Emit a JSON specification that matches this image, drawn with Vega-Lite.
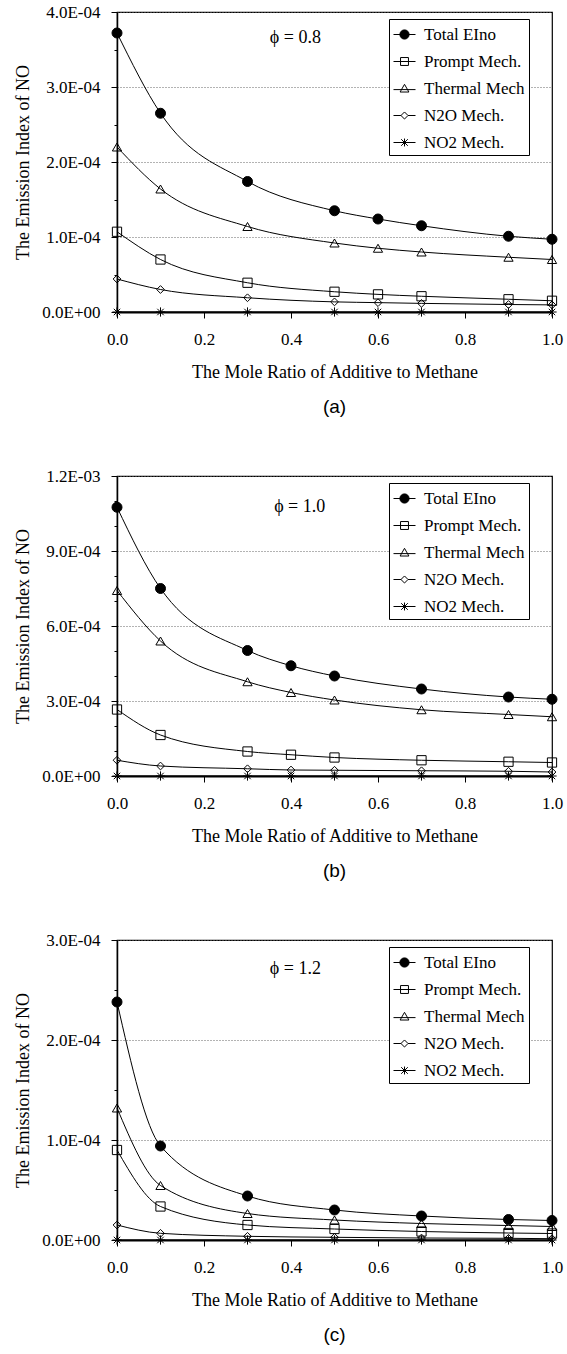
{
  "$schema": "https://vega.github.io/schema/vega-lite/v6.json",
  "padding": {"left": 14, "top": 2, "right": 5, "bottom": 0},
  "background": "white",
  "spacing": 48,
  "config": {
    "font": "Liberation Serif",
    "view": {"stroke": "black", "strokeWidth": 1.2},
    "axis": {"labelFont": "Liberation Serif", "titleFont": "Liberation Serif", "labelColor": "black", "titleColor": "black", "domainColor": "black", "tickColor": "black", "titleFontWeight": "normal", "labelFontSize": 17, "titleFontSize": 18, "labelFlush": false, "labelOverlap": false},
    "title": {"font": "Liberation Sans", "fontSize": 19, "fontWeight": "normal", "color": "black"},
    "legend": {"title": null, "orient": "none", "legendX": 272, "legendY": 7, "strokeColor": "black", "fillColor": "white", "padding": 4, "labelFontSize": 17, "labelFont": "Liberation Serif", "labelColor": "black", "symbolSize": 484, "symbolOpacity": 1, "symbolStrokeWidth": 1, "rowPadding": 7, "labelOffset": 8}
  },
  "resolve": {"scale": {"y": "independent", "shape": "independent", "fill": "independent"}, "legend": {"shape": "independent", "fill": "independent"}},
  "datasets": {
    "a": [
      {"x": 0, "s": "Total EIno", "y": 0.000372}, {"x": 0.1, "s": "Total EIno", "y": 0.000265}, {"x": 0.3, "s": "Total EIno", "y": 0.000174}, {"x": 0.5, "s": "Total EIno", "y": 0.000135}, {"x": 0.6, "s": "Total EIno", "y": 0.000124}, {"x": 0.7, "s": "Total EIno", "y": 0.000115}, {"x": 0.9, "s": "Total EIno", "y": 0.000101}, {"x": 1.0, "s": "Total EIno", "y": 0.000097},
      {"x": 0, "s": "Prompt Mech.", "y": 0.000107}, {"x": 0.1, "s": "Prompt Mech.", "y": 0.000070}, {"x": 0.3, "s": "Prompt Mech.", "y": 0.000039}, {"x": 0.5, "s": "Prompt Mech.", "y": 0.000027}, {"x": 0.6, "s": "Prompt Mech.", "y": 0.0000235}, {"x": 0.7, "s": "Prompt Mech.", "y": 0.000021}, {"x": 0.9, "s": "Prompt Mech.", "y": 0.000017}, {"x": 1.0, "s": "Prompt Mech.", "y": 0.000015},
      {"x": 0, "s": "Thermal Mech", "y": 0.000220}, {"x": 0.1, "s": "Thermal Mech", "y": 0.000164}, {"x": 0.3, "s": "Thermal Mech", "y": 0.000114}, {"x": 0.5, "s": "Thermal Mech", "y": 0.000092}, {"x": 0.6, "s": "Thermal Mech", "y": 0.000085}, {"x": 0.7, "s": "Thermal Mech", "y": 0.000080}, {"x": 0.9, "s": "Thermal Mech", "y": 0.000073}, {"x": 1.0, "s": "Thermal Mech", "y": 0.000070},
      {"x": 0, "s": "N2O Mech.", "y": 0.000044}, {"x": 0.1, "s": "N2O Mech.", "y": 0.000030}, {"x": 0.3, "s": "N2O Mech.", "y": 0.000019}, {"x": 0.5, "s": "N2O Mech.", "y": 0.0000135}, {"x": 0.6, "s": "N2O Mech.", "y": 0.0000125}, {"x": 0.7, "s": "N2O Mech.", "y": 0.0000115}, {"x": 0.9, "s": "N2O Mech.", "y": 0.000010}, {"x": 1.0, "s": "N2O Mech.", "y": 0.0000095},
      {"x": 0, "s": "NO2 Mech.", "y": 0}, {"x": 0.1, "s": "NO2 Mech.", "y": 0}, {"x": 0.3, "s": "NO2 Mech.", "y": 0}, {"x": 0.5, "s": "NO2 Mech.", "y": 0}, {"x": 0.6, "s": "NO2 Mech.", "y": 0}, {"x": 0.7, "s": "NO2 Mech.", "y": 0}, {"x": 0.9, "s": "NO2 Mech.", "y": 0}, {"x": 1.0, "s": "NO2 Mech.", "y": 0}
    ],
    "b": [
      {"x": 0, "s": "Total EIno", "y": 0.001075}, {"x": 0.1, "s": "Total EIno", "y": 0.000750}, {"x": 0.3, "s": "Total EIno", "y": 0.000502}, {"x": 0.4, "s": "Total EIno", "y": 0.000441}, {"x": 0.5, "s": "Total EIno", "y": 0.000400}, {"x": 0.7, "s": "Total EIno", "y": 0.000348}, {"x": 0.9, "s": "Total EIno", "y": 0.000316}, {"x": 1.0, "s": "Total EIno", "y": 0.000307},
      {"x": 0, "s": "Prompt Mech.", "y": 0.000266}, {"x": 0.1, "s": "Prompt Mech.", "y": 0.000164}, {"x": 0.3, "s": "Prompt Mech.", "y": 0.000098}, {"x": 0.4, "s": "Prompt Mech.", "y": 0.000085}, {"x": 0.5, "s": "Prompt Mech.", "y": 0.000074}, {"x": 0.7, "s": "Prompt Mech.", "y": 0.000063}, {"x": 0.9, "s": "Prompt Mech.", "y": 0.000057}, {"x": 1.0, "s": "Prompt Mech.", "y": 0.000054},
      {"x": 0, "s": "Thermal Mech", "y": 0.000742}, {"x": 0.1, "s": "Thermal Mech", "y": 0.000540}, {"x": 0.3, "s": "Thermal Mech", "y": 0.000377}, {"x": 0.4, "s": "Thermal Mech", "y": 0.000334}, {"x": 0.5, "s": "Thermal Mech", "y": 0.000304}, {"x": 0.7, "s": "Thermal Mech", "y": 0.000265}, {"x": 0.9, "s": "Thermal Mech", "y": 0.000246}, {"x": 1.0, "s": "Thermal Mech", "y": 0.000237},
      {"x": 0, "s": "N2O Mech.", "y": 0.000063}, {"x": 0.1, "s": "N2O Mech.", "y": 0.000040}, {"x": 0.3, "s": "N2O Mech.", "y": 0.000029}, {"x": 0.4, "s": "N2O Mech.", "y": 0.000024}, {"x": 0.5, "s": "N2O Mech.", "y": 0.000023}, {"x": 0.7, "s": "N2O Mech.", "y": 0.000021}, {"x": 0.9, "s": "N2O Mech.", "y": 0.000019}, {"x": 1.0, "s": "N2O Mech.", "y": 0.000016},
      {"x": 0, "s": "NO2 Mech.", "y": 0}, {"x": 0.1, "s": "NO2 Mech.", "y": 0}, {"x": 0.3, "s": "NO2 Mech.", "y": 0}, {"x": 0.4, "s": "NO2 Mech.", "y": 0}, {"x": 0.5, "s": "NO2 Mech.", "y": 0}, {"x": 0.7, "s": "NO2 Mech.", "y": 0}, {"x": 0.9, "s": "NO2 Mech.", "y": 0}, {"x": 1.0, "s": "NO2 Mech.", "y": 0}
    ],
    "c": [
      {"x": 0, "s": "Total EIno", "y": 0.000238}, {"x": 0.1, "s": "Total EIno", "y": 0.000094}, {"x": 0.3, "s": "Total EIno", "y": 0.000044}, {"x": 0.5, "s": "Total EIno", "y": 0.000030}, {"x": 0.7, "s": "Total EIno", "y": 0.000024}, {"x": 0.9, "s": "Total EIno", "y": 0.0000205}, {"x": 1.0, "s": "Total EIno", "y": 0.0000195},
      {"x": 0, "s": "Prompt Mech.", "y": 0.000090}, {"x": 0.1, "s": "Prompt Mech.", "y": 0.0000335}, {"x": 0.3, "s": "Prompt Mech.", "y": 0.000015}, {"x": 0.5, "s": "Prompt Mech.", "y": 0.000011}, {"x": 0.7, "s": "Prompt Mech.", "y": 0.0000085}, {"x": 0.9, "s": "Prompt Mech.", "y": 0.000007}, {"x": 1.0, "s": "Prompt Mech.", "y": 0.0000065},
      {"x": 0, "s": "Thermal Mech", "y": 0.000132}, {"x": 0.1, "s": "Thermal Mech", "y": 0.0000545}, {"x": 0.3, "s": "Thermal Mech", "y": 0.0000265}, {"x": 0.5, "s": "Thermal Mech", "y": 0.000020}, {"x": 0.7, "s": "Thermal Mech", "y": 0.0000165}, {"x": 0.9, "s": "Thermal Mech", "y": 0.0000145}, {"x": 1.0, "s": "Thermal Mech", "y": 0.0000135},
      {"x": 0, "s": "N2O Mech.", "y": 0.000015}, {"x": 0.1, "s": "N2O Mech.", "y": 0.0000067}, {"x": 0.3, "s": "N2O Mech.", "y": 0.0000037}, {"x": 0.5, "s": "N2O Mech.", "y": 0.0000027}, {"x": 0.7, "s": "N2O Mech.", "y": 0.000002}, {"x": 0.9, "s": "N2O Mech.", "y": 0.0000017}, {"x": 1.0, "s": "N2O Mech.", "y": 0.0000013},
      {"x": 0, "s": "NO2 Mech.", "y": 0}, {"x": 0.1, "s": "NO2 Mech.", "y": 0}, {"x": 0.3, "s": "NO2 Mech.", "y": 0}, {"x": 0.5, "s": "NO2 Mech.", "y": 0}, {"x": 0.7, "s": "NO2 Mech.", "y": 0}, {"x": 0.9, "s": "NO2 Mech.", "y": 0}, {"x": 1.0, "s": "NO2 Mech.", "y": 0}
    ],
    "ta": [{"x": 0.41, "y": 0.000365, "t": "ϕ = 0.8"}],
    "tb": [{"x": 0.42, "y": 0.001076, "t": "ϕ = 1.0"}],
    "tc": [{"x": 0.41, "y": 0.000271, "t": "ϕ = 1.2"}]
  },
  "vconcat": [
    {
      "width": 435, "height": 300,
      "title": {"text": "(a)", "orient": "bottom", "offset": 17},
      "resolve": {"scale": {"shape": "independent", "fill": "independent"}, "legend": {"shape": "independent", "fill": "independent"}},
      "encoding": {
        "x": {"field": "x", "type": "quantitative", "scale": {"domain": [0, 1], "nice": false}, "axis": {"values": [0, 0.2, 0.4, 0.6, 0.8, 1], "format": ".1f", "title": "The Mole Ratio of Additive to Methane", "grid": false, "tickSize": 6, "labelPadding": 13, "titlePadding": 16, "domainWidth": 2}},
        "y": {"field": "y", "type": "quantitative", "scale": {"domain": [0, 0.0004], "nice": false}, "axis": {"values": [0, 0.00005, 0.0001, 0.00015, 0.0002, 0.00025, 0.0003, 0.00035, 0.0004], "title": "The Emission Index of NO", "labelExpr": "abs(datum.value/1e-4 - round(datum.value/1e-4)) < 1e-6 ? replace(replace(format(datum.value, '.1e'), 'e-', 'E-0'), 'e+', 'E+0') : ''", "grid": true, "gridDash": [1, 2], "gridColor": "#666", "gridOpacity": {"condition": {"test": "abs(datum.value/1e-4 - round(datum.value/1e-4)) < 1e-6 && datum.value > 0", "value": 1}, "value": 0}, "tickSize": {"condition": {"test": "abs(datum.value/1e-4 - round(datum.value/1e-4)) < 1e-6", "value": 6}, "value": 3}, "labelPadding": 11, "titlePadding": 9, "domainWidth": 1.5}}
      },
      "layer": [
        {"data": {"name": "a"}, "mark": {"type": "line", "interpolate": "monotone", "color": "black", "strokeWidth": 1}, "encoding": {"detail": {"field": "s", "type": "nominal"}}},
        {"data": {"name": "a"}, "mark": {"type": "point", "filled": false, "opacity": 0, "strokeWidth": 1},
          "encoding": {
            "shape": {"field": "s", "type": "nominal", "scale": {"domain": ["Total EIno", "Prompt Mech.", "Thermal Mech", "N2O Mech.", "NO2 Mech."], "range": ["M-1,0L1,0M0.42,0A0.42,0.42,0,1,1,-0.42,0A0.42,0.42,0,1,1,0.42,0Z", "M-1,0L1,0M-0.36,-0.36L0.36,-0.36L0.36,0.36L-0.36,0.36Z", "M-1,0.1L1,0.1M0,-0.38L0.4,0.32L-0.4,0.32Z", "M-1,0L-0.32,0M0.32,0L1,0M0,-0.32L0.32,0L0,0.32L-0.32,0Z", "M-1,0L1,0M0,-0.36L0,0.36M-0.3,-0.3L0.3,0.3M-0.3,0.3L0.3,-0.3"]}},
            "fill": {"field": "s", "type": "nominal", "scale": {"domain": ["Total EIno", "Prompt Mech.", "Thermal Mech", "N2O Mech.", "NO2 Mech."], "range": ["black", "transparent", "transparent", "transparent", "transparent"]}},
            "color": {"value": "black"}
          }},
        {"data": {"name": "a"}, "mark": {"type": "point", "filled": false, "opacity": 1, "strokeWidth": 1},
          "encoding": {
            "shape": {"field": "s", "type": "nominal", "legend": null, "scale": {"domain": ["Total EIno", "Prompt Mech.", "Thermal Mech", "N2O Mech.", "NO2 Mech."], "range": ["circle", "square", "triangle-up", "diamond", "M-1,0L1,0M0,-1L0,1M-0.7,-0.7L0.7,0.7M-0.7,0.7L0.7,-0.7"]}},
            "fill": {"field": "s", "type": "nominal", "legend": null, "scale": {"domain": ["Total EIno", "Prompt Mech.", "Thermal Mech", "N2O Mech.", "NO2 Mech."], "range": ["black", "transparent", "transparent", "transparent", "transparent"]}},
            "color": {"value": "black"},
            "size": {"condition": [{"test": "datum.s === 'Total EIno'", "value": 100}, {"test": "datum.s === 'N2O Mech.'", "value": 60}], "value": 85}
          }},
        {"data": {"name": "ta"}, "mark": {"type": "text", "fontSize": 18, "font": "Liberation Serif", "color": "black"}, "encoding": {"text": {"field": "t"}}}
      ]
    },
    {
      "width": 435, "height": 300,
      "title": {"text": "(b)", "orient": "bottom", "offset": 17},
      "resolve": {"scale": {"shape": "independent", "fill": "independent"}, "legend": {"shape": "independent", "fill": "independent"}},
      "encoding": {
        "x": {"field": "x", "type": "quantitative", "scale": {"domain": [0, 1], "nice": false}, "axis": {"values": [0, 0.2, 0.4, 0.6, 0.8, 1], "format": ".1f", "title": "The Mole Ratio of Additive to Methane", "grid": false, "tickSize": 6, "labelPadding": 13, "titlePadding": 16, "domainWidth": 2}},
        "y": {"field": "y", "type": "quantitative", "scale": {"domain": [0, 0.0012], "nice": false}, "axis": {"values": [0, 0.0001, 0.0002, 0.0003, 0.0004, 0.0005, 0.0006, 0.0007, 0.0008, 0.0009, 0.001, 0.0011, 0.0012], "title": "The Emission Index of NO", "labelExpr": "abs(datum.value/3e-4 - round(datum.value/3e-4)) < 1e-6 ? replace(replace(format(datum.value, '.1e'), 'e-', 'E-0'), 'e+', 'E+0') : ''", "grid": true, "gridDash": [1, 2], "gridColor": "#666", "gridOpacity": {"condition": {"test": "abs(datum.value/3e-4 - round(datum.value/3e-4)) < 1e-6 && datum.value > 0", "value": 1}, "value": 0}, "tickSize": {"condition": {"test": "abs(datum.value/3e-4 - round(datum.value/3e-4)) < 1e-6", "value": 6}, "value": 3}, "labelPadding": 11, "titlePadding": 9, "domainWidth": 1.5}}
      },
      "layer": [
        {"data": {"name": "b"}, "mark": {"type": "line", "interpolate": "monotone", "color": "black", "strokeWidth": 1}, "encoding": {"detail": {"field": "s", "type": "nominal"}}},
        {"data": {"name": "b"}, "mark": {"type": "point", "filled": false, "opacity": 0, "strokeWidth": 1},
          "encoding": {
            "shape": {"field": "s", "type": "nominal", "scale": {"domain": ["Total EIno", "Prompt Mech.", "Thermal Mech", "N2O Mech.", "NO2 Mech."], "range": ["M-1,0L1,0M0.42,0A0.42,0.42,0,1,1,-0.42,0A0.42,0.42,0,1,1,0.42,0Z", "M-1,0L1,0M-0.36,-0.36L0.36,-0.36L0.36,0.36L-0.36,0.36Z", "M-1,0.1L1,0.1M0,-0.38L0.4,0.32L-0.4,0.32Z", "M-1,0L-0.32,0M0.32,0L1,0M0,-0.32L0.32,0L0,0.32L-0.32,0Z", "M-1,0L1,0M0,-0.36L0,0.36M-0.3,-0.3L0.3,0.3M-0.3,0.3L0.3,-0.3"]}},
            "fill": {"field": "s", "type": "nominal", "scale": {"domain": ["Total EIno", "Prompt Mech.", "Thermal Mech", "N2O Mech.", "NO2 Mech."], "range": ["black", "transparent", "transparent", "transparent", "transparent"]}},
            "color": {"value": "black"}
          }},
        {"data": {"name": "b"}, "mark": {"type": "point", "filled": false, "opacity": 1, "strokeWidth": 1},
          "encoding": {
            "shape": {"field": "s", "type": "nominal", "legend": null, "scale": {"domain": ["Total EIno", "Prompt Mech.", "Thermal Mech", "N2O Mech.", "NO2 Mech."], "range": ["circle", "square", "triangle-up", "diamond", "M-1,0L1,0M0,-1L0,1M-0.7,-0.7L0.7,0.7M-0.7,0.7L0.7,-0.7"]}},
            "fill": {"field": "s", "type": "nominal", "legend": null, "scale": {"domain": ["Total EIno", "Prompt Mech.", "Thermal Mech", "N2O Mech.", "NO2 Mech."], "range": ["black", "transparent", "transparent", "transparent", "transparent"]}},
            "color": {"value": "black"},
            "size": {"condition": [{"test": "datum.s === 'Total EIno'", "value": 100}, {"test": "datum.s === 'N2O Mech.'", "value": 60}], "value": 85}
          }},
        {"data": {"name": "tb"}, "mark": {"type": "text", "fontSize": 18, "font": "Liberation Serif", "color": "black"}, "encoding": {"text": {"field": "t"}}}
      ]
    },
    {
      "width": 435, "height": 300,
      "title": {"text": "(c)", "orient": "bottom", "offset": 17},
      "resolve": {"scale": {"shape": "independent", "fill": "independent"}, "legend": {"shape": "independent", "fill": "independent"}},
      "encoding": {
        "x": {"field": "x", "type": "quantitative", "scale": {"domain": [0, 1], "nice": false}, "axis": {"values": [0, 0.2, 0.4, 0.6, 0.8, 1], "format": ".1f", "title": "The Mole Ratio of Additive to Methane", "grid": false, "tickSize": 6, "labelPadding": 13, "titlePadding": 16, "domainWidth": 2}},
        "y": {"field": "y", "type": "quantitative", "scale": {"domain": [0, 0.0003], "nice": false}, "axis": {"values": [0, 0.00005, 0.0001, 0.00015, 0.0002, 0.00025, 0.0003], "title": "The Emission Index of NO", "labelExpr": "abs(datum.value/1e-4 - round(datum.value/1e-4)) < 1e-6 ? replace(replace(format(datum.value, '.1e'), 'e-', 'E-0'), 'e+', 'E+0') : ''", "grid": true, "gridDash": [1, 2], "gridColor": "#666", "gridOpacity": {"condition": {"test": "abs(datum.value/1e-4 - round(datum.value/1e-4)) < 1e-6 && datum.value > 0", "value": 1}, "value": 0}, "tickSize": {"condition": {"test": "abs(datum.value/1e-4 - round(datum.value/1e-4)) < 1e-6", "value": 6}, "value": 3}, "labelPadding": 11, "titlePadding": 9, "domainWidth": 1.5}}
      },
      "layer": [
        {"data": {"name": "c"}, "mark": {"type": "line", "interpolate": "monotone", "color": "black", "strokeWidth": 1}, "encoding": {"detail": {"field": "s", "type": "nominal"}}},
        {"data": {"name": "c"}, "mark": {"type": "point", "filled": false, "opacity": 0, "strokeWidth": 1},
          "encoding": {
            "shape": {"field": "s", "type": "nominal", "scale": {"domain": ["Total EIno", "Prompt Mech.", "Thermal Mech", "N2O Mech.", "NO2 Mech."], "range": ["M-1,0L1,0M0.42,0A0.42,0.42,0,1,1,-0.42,0A0.42,0.42,0,1,1,0.42,0Z", "M-1,0L1,0M-0.36,-0.36L0.36,-0.36L0.36,0.36L-0.36,0.36Z", "M-1,0.1L1,0.1M0,-0.38L0.4,0.32L-0.4,0.32Z", "M-1,0L-0.32,0M0.32,0L1,0M0,-0.32L0.32,0L0,0.32L-0.32,0Z", "M-1,0L1,0M0,-0.36L0,0.36M-0.3,-0.3L0.3,0.3M-0.3,0.3L0.3,-0.3"]}},
            "fill": {"field": "s", "type": "nominal", "scale": {"domain": ["Total EIno", "Prompt Mech.", "Thermal Mech", "N2O Mech.", "NO2 Mech."], "range": ["black", "transparent", "transparent", "transparent", "transparent"]}},
            "color": {"value": "black"}
          }},
        {"data": {"name": "c"}, "mark": {"type": "point", "filled": false, "opacity": 1, "strokeWidth": 1},
          "encoding": {
            "shape": {"field": "s", "type": "nominal", "legend": null, "scale": {"domain": ["Total EIno", "Prompt Mech.", "Thermal Mech", "N2O Mech.", "NO2 Mech."], "range": ["circle", "square", "triangle-up", "diamond", "M-1,0L1,0M0,-1L0,1M-0.7,-0.7L0.7,0.7M-0.7,0.7L0.7,-0.7"]}},
            "fill": {"field": "s", "type": "nominal", "legend": null, "scale": {"domain": ["Total EIno", "Prompt Mech.", "Thermal Mech", "N2O Mech.", "NO2 Mech."], "range": ["black", "transparent", "transparent", "transparent", "transparent"]}},
            "color": {"value": "black"},
            "size": {"condition": [{"test": "datum.s === 'Total EIno'", "value": 100}, {"test": "datum.s === 'N2O Mech.'", "value": 60}], "value": 85}
          }},
        {"data": {"name": "tc"}, "mark": {"type": "text", "fontSize": 18, "font": "Liberation Serif", "color": "black"}, "encoding": {"text": {"field": "t"}}}
      ]
    }
  ]
}
